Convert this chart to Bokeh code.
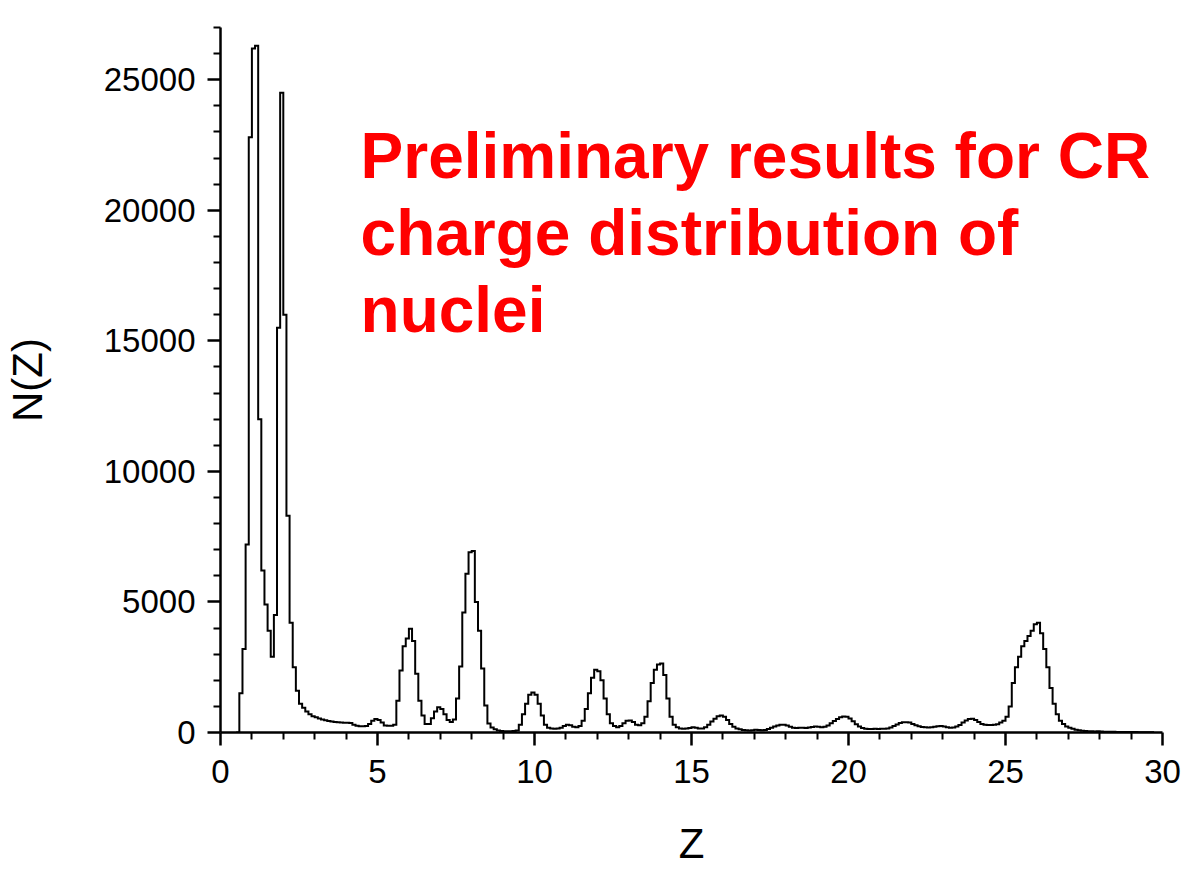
import numpy as np
from bokeh.plotting import figure
from bokeh.models import Range1d, FixedTicker, Label
from bokeh.embed import file_html
from bokeh.resources import INLINE

# Histogram of reconstructed charge Z, bin width 0.1, first bin starts at Z = 0.5
z_start = 0.5
bin_width = 0.1

# counts per bin, Z 0.5 - 4.9 (H, He)
counts_light = [
    0, 1500, 3200, 7200, 22800, 26200, 26300, 12000, 6200, 4900,
    3900, 2900, 4500, 15500, 24500, 16000, 8300, 4200, 2500, 1600,
    1100, 950, 800, 700, 620, 580, 540, 500, 470, 440,
    420, 400, 390, 380, 370, 370, 360, 300, 260, 240,
    240, 250, 330, 450, 520,
]
# Z 5.0 - 9.9 (B, C, N, O)
counts_cno = [
    480, 380, 270, 260, 260, 300, 1220, 2370, 3300, 3600,
    3970, 3500, 2250, 1220, 650, 330, 330, 550, 800, 970,
    900, 700, 480, 400, 500, 1300, 2530, 4600, 6080, 6900,
    6950, 5000, 3900, 2450, 1030, 345, 190, 120, 80, 60,
    50, 50, 50, 60, 80, 300, 700, 1100, 1450, 1530,
]
# Z 10.0 - 14.9 (Ne, Na, Mg, Al, Si)
counts_ne_si = [
    1450, 1100, 650, 300, 180, 150, 140, 150, 180, 250,
    300, 280, 220, 200, 250, 450, 900, 1500, 2100, 2400,
    2350, 2000, 1300, 700, 350, 250, 200, 250, 350, 450,
    460, 400, 300, 280, 350, 600, 1200, 1900, 2400, 2600,
    2640, 2200, 1300, 600, 300, 200, 150, 140, 150, 170,
]
# Z 15.0 - 19.9 (P, S, Cl, Ar, K)
counts_p_k = [
    200, 180, 150, 150, 200, 300, 420, 530, 620, 650,
    600, 480, 330, 220, 150, 120, 100, 90, 80, 90,
    110, 100, 90, 100, 130, 180, 230, 270, 300, 300,
    270, 220, 180, 170, 180, 180, 170, 190, 210, 230,
    220, 200, 220, 270, 350, 440, 520, 580, 610, 600,
]
# Z 20.0 - 24.9 (Ca, Ti, V, Cr)
counts_ca_cr = [
    540, 430, 320, 230, 170, 140, 130, 130, 140, 130,
    140, 140, 150, 190, 250, 310, 360, 390, 395, 380,
    330, 280, 240, 210, 200, 190, 200, 220, 240, 250,
    230, 200, 180, 190, 230, 290, 380, 460, 520, 525,
    480, 400, 330, 300, 290, 290, 300, 320, 380, 450,
]
# Z 25.0 - 29.6 (Mn, Fe and above)
counts_fe = [
    600, 1000, 1900, 2500, 2900, 3300, 3500, 3700, 3900, 4150,
    4200, 3800, 3200, 2500, 1700, 1100, 700, 450, 330, 230,
    180, 140, 110, 90, 70, 60, 50, 45, 40, 45,
    35, 30, 30, 25, 25, 20, 20, 20, 15, 15,
    15, 15, 10, 10, 10, 10, 10,
]

x_ticks = [0, 5, 10, 15, 20, 25, 30]
x_minor = [z for z in range(0, 31) if z % 5 != 0]
y_ticks = [0, 5000, 10000, 15000, 20000, 25000]
y_labels = ["0", "5000", "10000", "15000", "20000", "25000"]
y_minor = [v for v in range(1000, 28000, 1000) if v % 5000 != 0]

title_lines = ["Preliminary results for CR", "charge distribution of", "nuclei"]

counts = counts_light + counts_cno + counts_ne_si + counts_p_k + counts_ca_cr + counts_fe
edges = np.round(z_start + bin_width * np.arange(len(counts) + 1), 2)
step_y = counts + [0]

FONT = "Liberation Sans"

p = figure(
    width=1196, height=871,
    output_backend="svg", toolbar_location=None,
    x_range=Range1d(0, 30), y_range=Range1d(0, 27000),
    min_border_left=220, min_border_right=34,
    min_border_top=27, min_border_bottom=139,
    background_fill_color="white", border_fill_color="white",
)
p.outline_line_color = None
p.xgrid.visible = False
p.ygrid.visible = False

p.step(edges, step_y, mode="after", line_color="black", line_width=2,
       line_join="miter")

# x axis
xa = p.xaxis[0]
xa.ticker = FixedTicker(ticks=x_ticks, minor_ticks=x_minor)
xa.axis_label = "Z"
# y axis
ya = p.yaxis[0]
ya.ticker = FixedTicker(ticks=y_ticks, minor_ticks=y_minor)
ya.major_label_overrides = {t: s for t, s in zip(y_ticks, y_labels)}
ya.axis_label = "N(Z)"

for ax in (xa, ya):
    ax.axis_line_color = "black"
    ax.axis_line_width = 2.5
    ax.major_tick_line_color = "black"
    ax.major_tick_line_width = 2.5
    ax.minor_tick_line_color = "black"
    ax.minor_tick_line_width = 2
    ax.major_tick_in = 0
    ax.major_tick_out = 13
    ax.minor_tick_in = 0
    ax.minor_tick_out = 7
    ax.major_label_text_font = FONT
    ax.major_label_text_font_size = "33px"
    ax.major_label_text_color = "black"
    ax.axis_label_text_font = FONT
    ax.axis_label_text_font_size = "42px"
    ax.axis_label_text_font_style = "normal"
    ax.axis_label_text_color = "black"

xa.major_label_standoff = 14
xa.axis_label_standoff = 34
ya.major_label_standoff = 12
ya.axis_label_standoff = 50

# red annotation in the upper right
title_y = [22080, 19130, 16180]
for txt, yy in zip(title_lines, title_y):
    p.add_layout(Label(
        x=4.46, y=yy, text=txt,
        text_font=FONT, text_font_size="64px", text_font_style="bold",
        text_color="#ff0000", text_baseline="alphabetic", text_align="left",
    ))

open("out.html", "w").write(file_html(p, INLINE))
